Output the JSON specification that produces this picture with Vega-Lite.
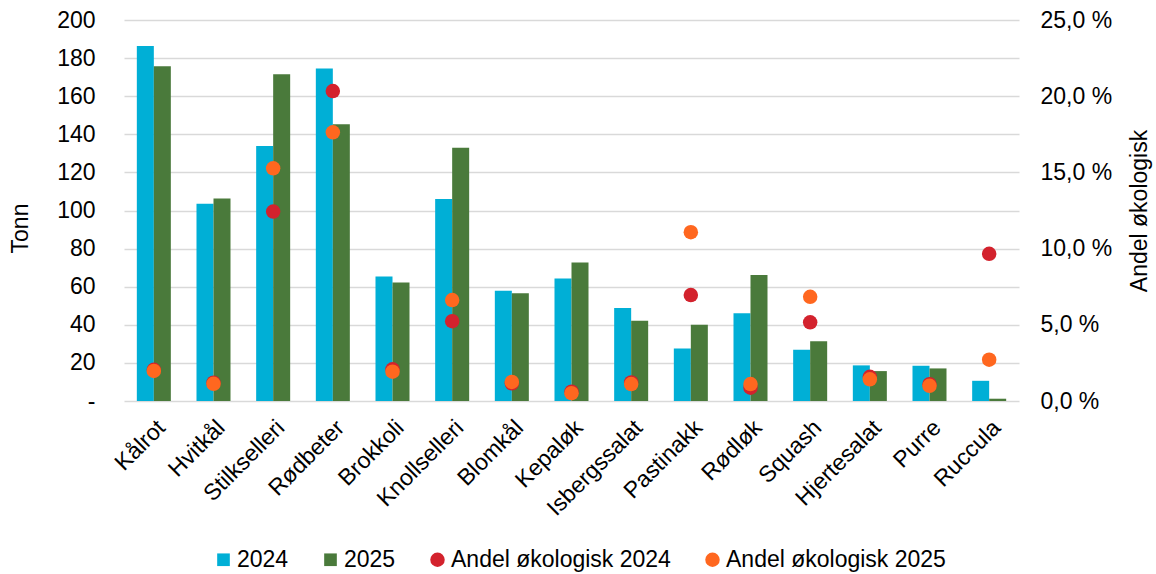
{
  "$schema": "https://vega.github.io/schema/vega-lite/v6.json",
  "width": 895,
  "height": 381,
  "autosize": {"type": "none"},
  "padding": {"left": 124, "top": 20, "right": 137, "bottom": 173},
  "background": "white",
  "config": {
    "font": "Liberation Sans",
    "view": {"stroke": null},
    "axis": {"labelFont": "Liberation Sans", "titleFont": "Liberation Sans", "labelFontSize": 23, "titleFontSize": 23, "labelColor": "#000000", "titleColor": "#000000", "titleFontWeight": "normal", "domain": false, "ticks": false},
    "legend": {"labelFont": "Liberation Sans", "labelFontSize": 23, "labelColor": "#000000", "labelLimit": 400}
  },
  "datasets": {
    "bars": [
      {"veg": "Kålrot", "serie": "2024", "tonn": 186.3},
      {"veg": "Kålrot", "serie": "2025", "tonn": 175.7},
      {"veg": "Hvitkål", "serie": "2024", "tonn": 103.5},
      {"veg": "Hvitkål", "serie": "2025", "tonn": 106.3},
      {"veg": "Stilkselleri", "serie": "2024", "tonn": 133.9},
      {"veg": "Stilkselleri", "serie": "2025", "tonn": 171.5},
      {"veg": "Rødbeter", "serie": "2024", "tonn": 174.5},
      {"veg": "Rødbeter", "serie": "2025", "tonn": 145.3},
      {"veg": "Brokkoli", "serie": "2024", "tonn": 65.4},
      {"veg": "Brokkoli", "serie": "2025", "tonn": 62.2},
      {"veg": "Knollselleri", "serie": "2024", "tonn": 106.1},
      {"veg": "Knollselleri", "serie": "2025", "tonn": 133.0},
      {"veg": "Blomkål", "serie": "2024", "tonn": 57.9},
      {"veg": "Blomkål", "serie": "2025", "tonn": 56.5},
      {"veg": "Kepaløk", "serie": "2024", "tonn": 64.3},
      {"veg": "Kepaløk", "serie": "2025", "tonn": 72.7},
      {"veg": "Isbergssalat", "serie": "2024", "tonn": 48.8},
      {"veg": "Isbergssalat", "serie": "2025", "tonn": 42.1},
      {"veg": "Pastinakk", "serie": "2024", "tonn": 27.6},
      {"veg": "Pastinakk", "serie": "2025", "tonn": 40.0},
      {"veg": "Rødløk", "serie": "2024", "tonn": 46.1},
      {"veg": "Rødløk", "serie": "2025", "tonn": 66.2},
      {"veg": "Squash", "serie": "2024", "tonn": 26.9},
      {"veg": "Squash", "serie": "2025", "tonn": 31.3},
      {"veg": "Hjertesalat", "serie": "2024", "tonn": 18.7},
      {"veg": "Hjertesalat", "serie": "2025", "tonn": 15.7},
      {"veg": "Purre", "serie": "2024", "tonn": 18.5},
      {"veg": "Purre", "serie": "2025", "tonn": 17.1},
      {"veg": "Ruccula", "serie": "2024", "tonn": 10.6},
      {"veg": "Ruccula", "serie": "2025", "tonn": 1.2}
    ],
    "points": [
      {"veg": "Kålrot", "serie": "Andel økologisk 2024", "andel": 2.05},
      {"veg": "Hvitkål", "serie": "Andel økologisk 2024", "andel": 1.2},
      {"veg": "Stilkselleri", "serie": "Andel økologisk 2024", "andel": 12.43},
      {"veg": "Rødbeter", "serie": "Andel økologisk 2024", "andel": 20.34},
      {"veg": "Brokkoli", "serie": "Andel økologisk 2024", "andel": 2.08},
      {"veg": "Knollselleri", "serie": "Andel økologisk 2024", "andel": 5.24},
      {"veg": "Blomkål", "serie": "Andel økologisk 2024", "andel": 1.16},
      {"veg": "Kepaløk", "serie": "Andel økologisk 2024", "andel": 0.61},
      {"veg": "Isbergssalat", "serie": "Andel økologisk 2024", "andel": 1.22},
      {"veg": "Pastinakk", "serie": "Andel økologisk 2024", "andel": 6.95},
      {"veg": "Rødløk", "serie": "Andel økologisk 2024", "andel": 0.87},
      {"veg": "Squash", "serie": "Andel økologisk 2024", "andel": 5.16},
      {"veg": "Hjertesalat", "serie": "Andel økologisk 2024", "andel": 1.59},
      {"veg": "Purre", "serie": "Andel økologisk 2024", "andel": 1.1},
      {"veg": "Ruccula", "serie": "Andel økologisk 2024", "andel": 9.66},
      {"veg": "Kålrot", "serie": "Andel økologisk 2025", "andel": 1.97},
      {"veg": "Hvitkål", "serie": "Andel økologisk 2025", "andel": 1.13},
      {"veg": "Stilkselleri", "serie": "Andel økologisk 2025", "andel": 15.27},
      {"veg": "Rødbeter", "serie": "Andel økologisk 2025", "andel": 17.63},
      {"veg": "Brokkoli", "serie": "Andel økologisk 2025", "andel": 1.92},
      {"veg": "Knollselleri", "serie": "Andel økologisk 2025", "andel": 6.62},
      {"veg": "Blomkål", "serie": "Andel økologisk 2025", "andel": 1.25},
      {"veg": "Kepaløk", "serie": "Andel økologisk 2025", "andel": 0.51},
      {"veg": "Isbergssalat", "serie": "Andel økologisk 2025", "andel": 1.11},
      {"veg": "Pastinakk", "serie": "Andel økologisk 2025", "andel": 11.08},
      {"veg": "Rødløk", "serie": "Andel økologisk 2025", "andel": 1.11},
      {"veg": "Squash", "serie": "Andel økologisk 2025", "andel": 6.84},
      {"veg": "Hjertesalat", "serie": "Andel økologisk 2025", "andel": 1.42},
      {"veg": "Purre", "serie": "Andel økologisk 2025", "andel": 1.0},
      {"veg": "Ruccula", "serie": "Andel økologisk 2025", "andel": 2.71}
    ]
  },
  "layer": [
    {
      "data": {"name": "bars"},
      "mark": {"type": "bar"},
      "encoding": {
        "x": {
          "field": "veg", "type": "nominal",
          "sort": ["Kålrot","Hvitkål","Stilkselleri","Rødbeter","Brokkoli","Knollselleri","Blomkål","Kepaløk","Isbergssalat","Pastinakk","Rødløk","Squash","Hjertesalat","Purre","Ruccula"],
          "scale": {"paddingInner": 0.43, "paddingOuter": 0.215},
          "axis": {"title": null, "labelAngle": -45, "labelPadding": 15, "grid": false}
        },
        "xOffset": {"field": "serie", "type": "nominal"},
        "y": {
          "field": "tonn", "type": "quantitative",
          "scale": {"domain": [0, 200], "nice": false},
          "axis": {"title": "Tonn", "values": [0,20,40,60,80,100,120,140,160,180,200], "labelExpr": "datum.value == 0 ? '-' : datum.label", "labelPadding": 29, "titlePadding": 24, "titleY": 208, "grid": true, "gridColor": "#D9D9D9", "gridWidth": 1.5}
        },
        "color": {
          "field": "serie", "type": "nominal",
          "scale": {"domain": ["2024", "2025", "Andel økologisk 2024", "Andel økologisk 2025"], "range": ["#00AFD6", "#4A7A3B", "#D3222D", "#FF671F"]},
          "legend": {
            "title": null, "orient": "none", "direction": "horizontal", "legendX": 88, "legendY": 528,
            "columnPadding": 30, "labelOffset": 2, "symbolOpacity": 1
          }
        }
      }
    },
    {
      "data": {"name": "points"},
      "mark": {"type": "point", "filled": true, "opacity": 1},
      "encoding": {
        "x": {"field": "veg", "type": "nominal", "sort": ["Kålrot","Hvitkål","Stilkselleri","Rødbeter","Brokkoli","Knollselleri","Blomkål","Kepaløk","Isbergssalat","Pastinakk","Rødløk","Squash","Hjertesalat","Purre","Ruccula"]},
        "y": {
          "field": "andel", "type": "quantitative",
          "scale": {"domain": [0, 25], "nice": false},
          "axis": {"orient": "right", "title": "Andel økologisk", "titleAngle": -90, "values": [0,5,10,15,20,25], "labelExpr": "replace(format(datum.value, '.1f'), '.', ',') + ' %'", "labelPadding": 21, "titlePadding": 40, "grid": false}
        },
        "color": {"field": "serie", "type": "nominal"},
        "shape": {
          "field": "serie", "type": "nominal",
          "scale": {"domain": ["2024", "2025", "Andel økologisk 2024", "Andel økologisk 2025"], "range": ["square", "square", "circle", "circle"]}
        },
        "size": {
          "field": "serie", "type": "nominal",
          "scale": {"type": "ordinal", "domain": ["2024", "2025", "Andel økologisk 2024", "Andel økologisk 2025"], "range": [160, 160, 210, 210]}
        }
      }
    }
  ],
  "resolve": {"scale": {"y": "independent"}}
}
